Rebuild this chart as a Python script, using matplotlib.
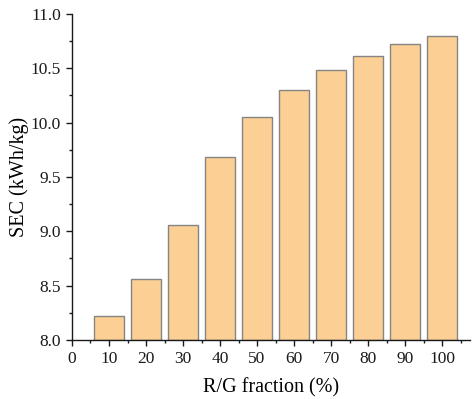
import matplotlib
matplotlib.use("Agg")
import matplotlib.pyplot as plt
from matplotlib.ticker import MultipleLocator

fractions = [10, 20, 30, 40, 50, 60, 70, 80, 90, 100]
sec = [8.22, 8.56, 9.06, 9.68, 10.05, 10.30, 10.48, 10.61, 10.72, 10.80]

plt.rcParams['font.family'] = ['Liberation Serif', 'DejaVu Serif']

fig = plt.figure(figsize=(4.72, 3.99), dpi=100)
ax = fig.add_axes([0.1525, 0.148, 0.843, 0.817])

ax.bar(fractions, [v - 8.0 for v in sec], bottom=8.0, width=8,
       color="#fccf94", edgecolor="#858585", linewidth=1.0, zorder=2)

ax.set_xlim(0, 107.5)
ax.set_ylim(8.0, 11.0)
ax.xaxis.set_major_locator(MultipleLocator(10))
ax.xaxis.set_minor_locator(MultipleLocator(5))
ax.yaxis.set_major_locator(MultipleLocator(0.5))
ax.yaxis.set_minor_locator(MultipleLocator(0.25))
ax.yaxis.set_major_formatter(plt.FormatStrFormatter('%.1f'))

for s in ["top", "right"]:
    ax.spines[s].set_visible(False)
for s in ["left", "bottom"]:
    ax.spines[s].set_linewidth(1.0)
    ax.spines[s].set_color("#1a1a1a")

ax.tick_params(which="major", direction="out", length=4.5, width=1.0,
               labelsize=12.5, colors="#1a1a1a")
ax.tick_params(which="minor", direction="out", length=2.5, width=1.0, colors="#1a1a1a")

ax.set_xlabel("R/G fraction (%)", fontsize=14.5, labelpad=8)
ax.set_ylabel("SEC (kWh/kg)", fontsize=14.5, labelpad=1)

fig.savefig("out.png", dpi=100)
